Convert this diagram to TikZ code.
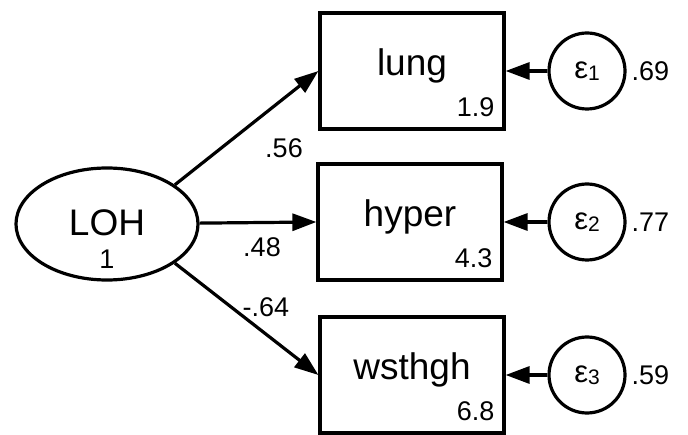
\documentclass[tikz,border=0pt]{standalone}
\usepackage{fontspec}
\setmainfont{Liberation Sans}
\usetikzlibrary{arrows.meta,shapes.geometric}
\begin{document}
\begin{tikzpicture}[x=1pt,y=-1pt,
  line width=3.2pt,
  big/.style={font=\fontsize{37}{37}\selectfont},
  small/.style={font=\fontsize{27}{27}\selectfont},
  obs/.style={draw,minimum width=184pt,minimum height=116pt,inner sep=0pt},
  err/.style={draw,circle,minimum size=76pt,inner sep=0pt},
  lat/.style={draw,ellipse,minimum width=182pt,minimum height=112pt,inner sep=0pt},
  path/.style={-{Triangle[length=24pt,width=17pt]}},
  lbl/.style={small,inner sep=0pt}]
\useasboundingbox (0,0) rectangle (688,435);
\node[lat] (loh) at (107,224) {};
\node[big,inner sep=0pt] (lohT) at (107,223) {LOH};
\node[lbl] (lohV) at (107,259) {1};

\node[obs] (lung) at (412,71) {};
\node[big,inner sep=0pt] at (412,66) {lung};
\node[lbl,anchor=south east] (lungV) at (496,118) {1.9};

\node[obs] (hyper) at (410,222) {};
\node[big,inner sep=0pt] at (410,217) {hyper};
\node[lbl,anchor=south east] (hyperV) at (494,269) {4.3};

\node[obs] (wst) at (412,375) {};
\node[big,inner sep=0pt] at (412,370) {wsthgh};
\node[lbl,anchor=south east] (wstV) at (496,422) {6.8};

\node[err] (e1) at (587,71) {\fontsize{31}{31}\selectfont ε\raisebox{-2pt}{\fontsize{21}{21}\selectfont 1}};
\node[err] (e2) at (587,222) {\fontsize{31}{31}\selectfont ε\raisebox{-2pt}{\fontsize{21}{21}\selectfont 2}};
\node[err] (e3) at (587,375) {\fontsize{31}{31}\selectfont ε\raisebox{-2pt}{\fontsize{21}{21}\selectfont 3}};

\node[lbl,anchor=west] (v1) at (630,71) {.69};
\node[lbl,anchor=west] (v2) at (630,222) {.77};
\node[lbl,anchor=west] (v3) at (630,375) {.59};

\draw[path] (e1) -- (lung);
\draw[path] (e2) -- (hyper);
\draw[path] (e3) -- (wst);

\draw[path] (loh.30) -- (lung.west);
\draw[path] (loh) -- (hyper.west);
\draw[path] (loh.-30) -- (wst.west);

\node[lbl] (l1) at (284,148) {.56};
\node[lbl] (l2) at (262,247) {.48};
\node[lbl] (l3) at (266,307) {-.64};
\end{tikzpicture}
\end{document}
